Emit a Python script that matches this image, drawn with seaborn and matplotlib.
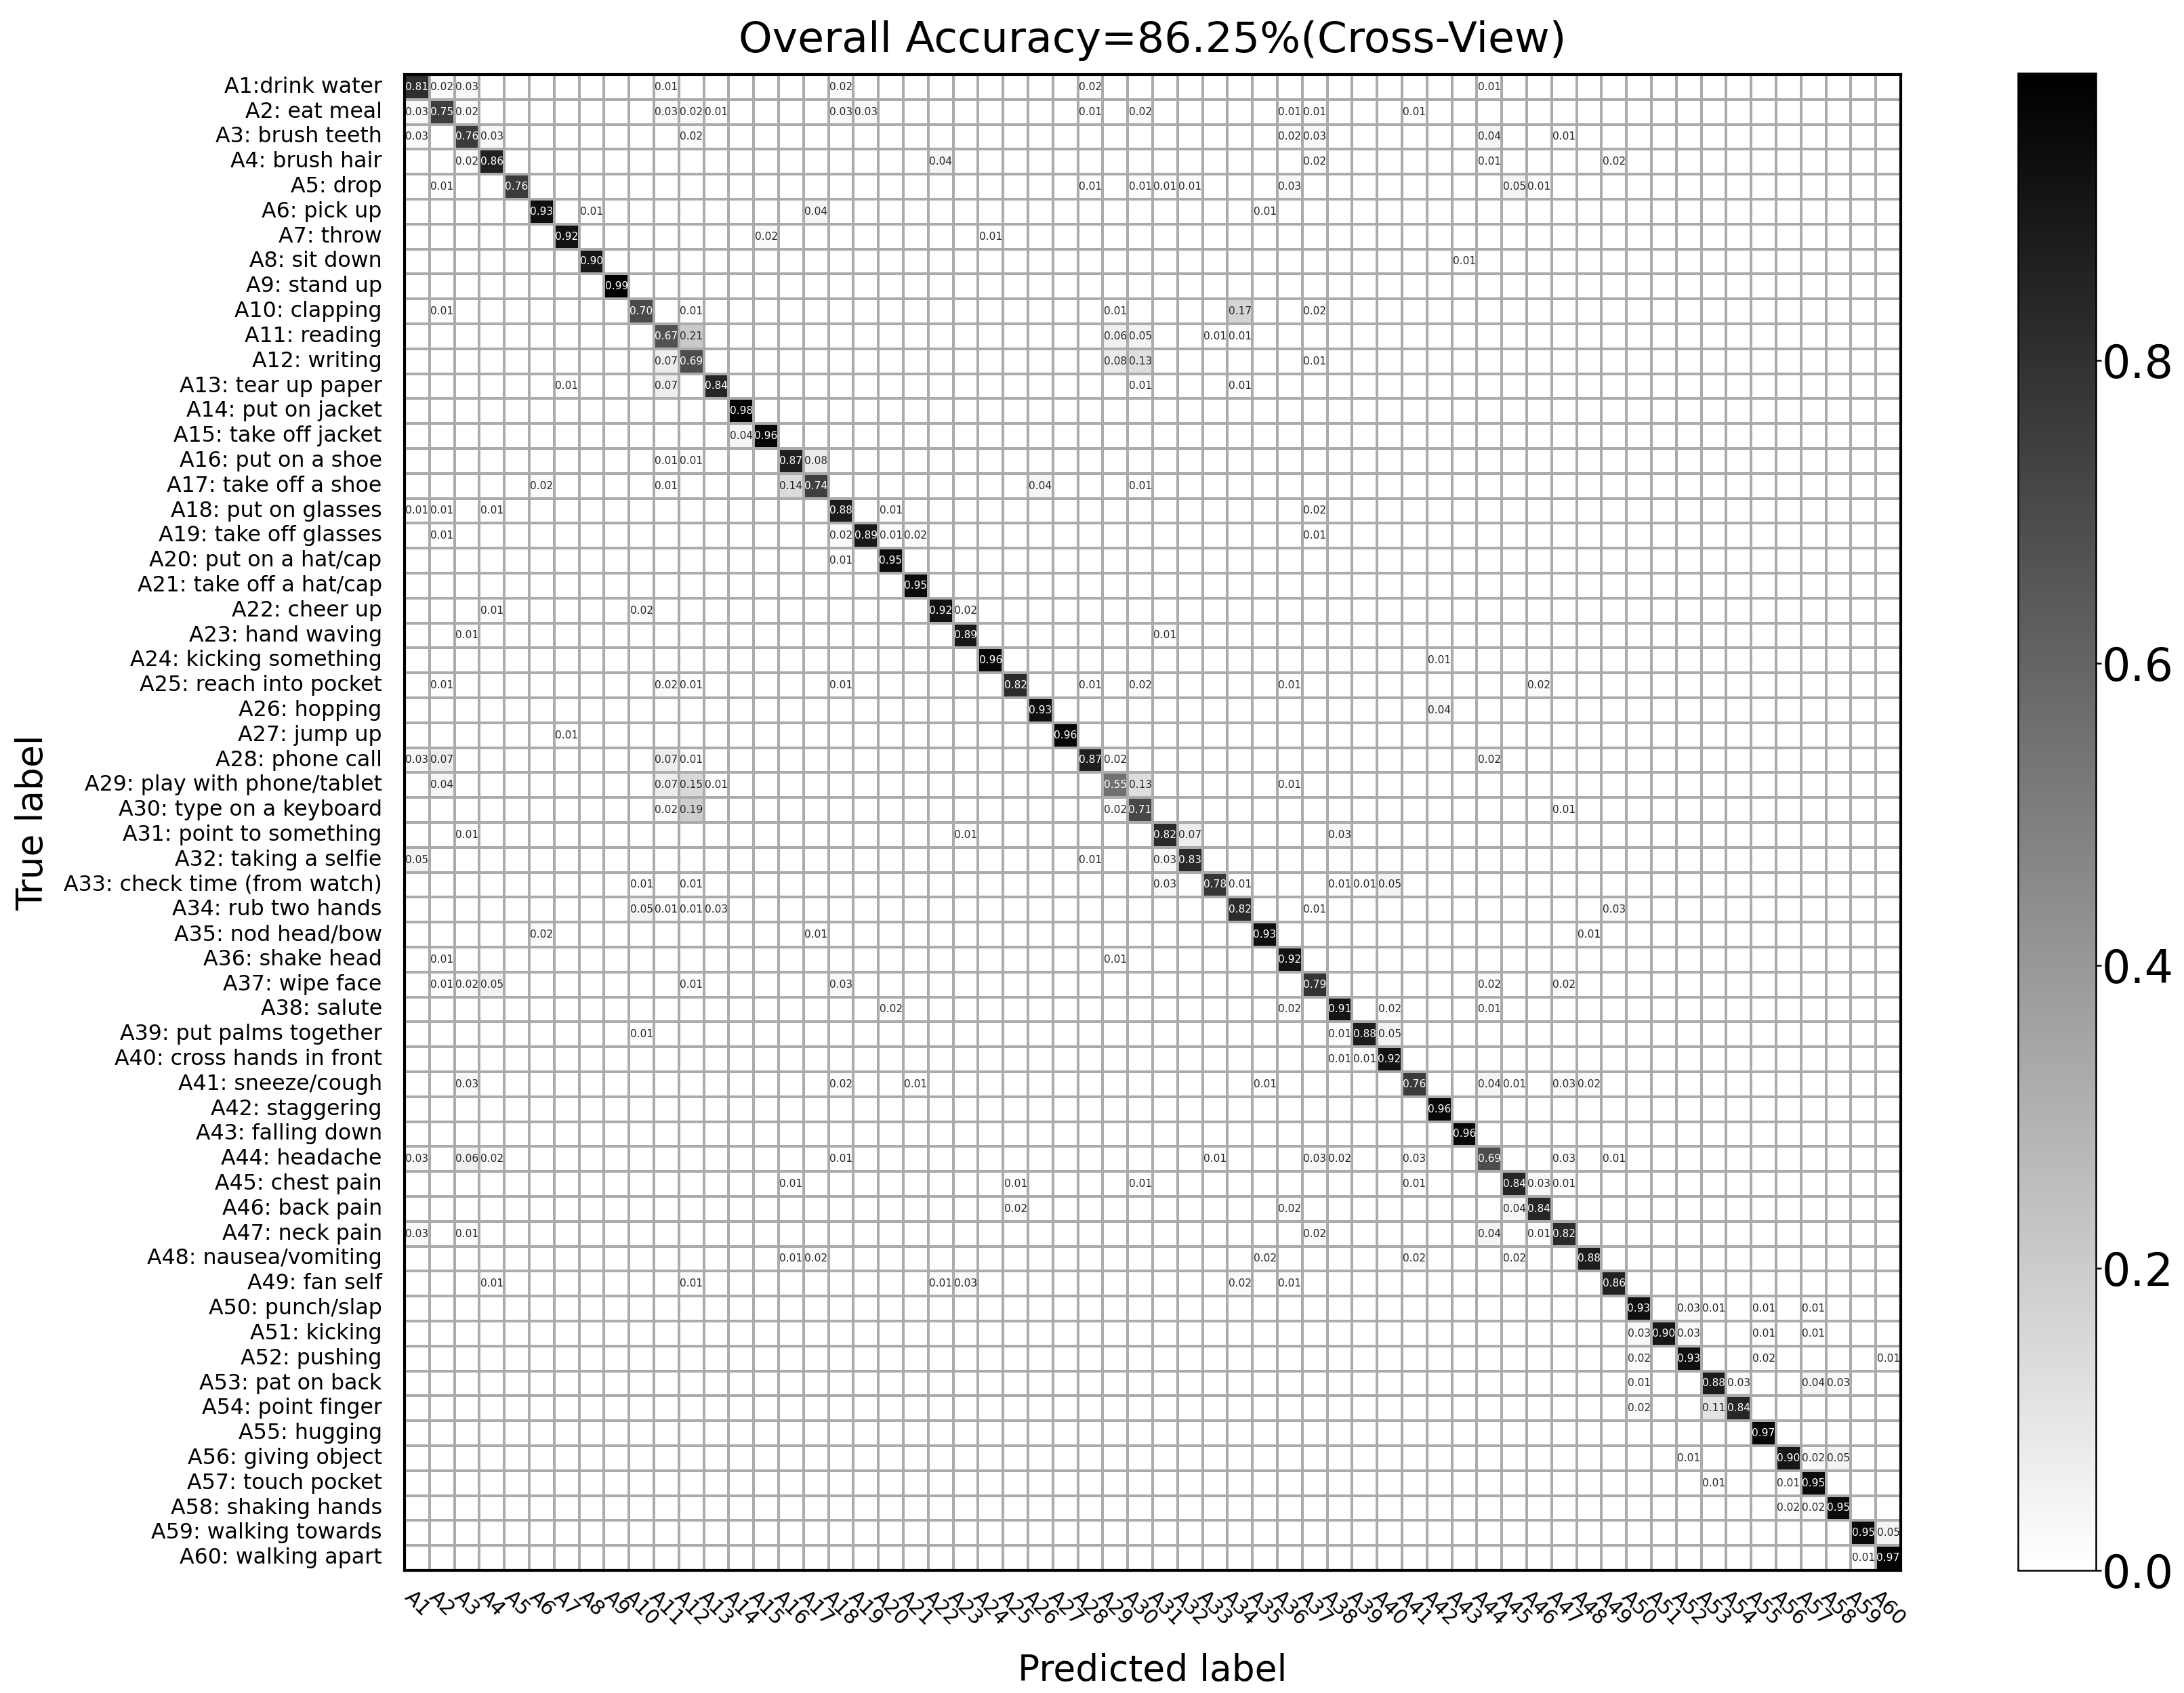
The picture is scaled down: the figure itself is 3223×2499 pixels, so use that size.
import numpy as np
import pandas as pd
import matplotlib
matplotlib.use('Agg')
import matplotlib.pyplot as plt
import seaborn as sns

class_names = ['A1:drink water', 'A2: eat meal', 'A3: brush teeth', 'A4: brush hair', 'A5: drop', 'A6: pick up',
               'A7: throw', 'A8: sit down', 'A9: stand up', 'A10: clapping', 'A11: reading', 'A12: writing',
               'A13: tear up paper', 'A14: put on jacket', 'A15: take off jacket', 'A16: put on a shoe',
               'A17: take off a shoe', 'A18: put on glasses', 'A19: take off glasses', 'A20: put on a hat/cap',
               'A21: take off a hat/cap', 'A22: cheer up', 'A23: hand waving', 'A24: kicking something',
               'A25: reach into pocket', 'A26: hopping', 'A27: jump up', 'A28: phone call',
               'A29: play with phone/tablet', 'A30: type on a keyboard', 'A31: point to something',
               'A32: taking a selfie', 'A33: check time (from watch)', 'A34: rub two hands', 'A35: nod head/bow',
               'A36: shake head', 'A37: wipe face', 'A38: salute', 'A39: put palms together',
               'A40: cross hands in front', 'A41: sneeze/cough', 'A42: staggering', 'A43: falling down',
               'A44: headache', 'A45: chest pain', 'A46: back pain', 'A47: neck pain', 'A48: nausea/vomiting',
               'A49: fan self', 'A50: punch/slap', 'A51: kicking', 'A52: pushing', 'A53: pat on back',
               'A54: point finger', 'A55: hugging', 'A56: giving object', 'A57: touch pocket',
               'A58: shaking hands', 'A59: walking towards', 'A60: walking apart']
pred_names = ['A%d' % i for i in range(1, 61)]

# diagonal, A1 to A60
diagonal = [.81, .75, .76, .86, .76, .93, .92, .90, .99, .70,
            .67, .69, .84, .98, .96, .87, .74, .88, .89, .95,
            .95, .92, .89, .96, .82, .93, .96, .87, .55, .71,
            .82, .83, .78, .82, .93, .92, .79, .91, .88, .92,
            .76, .96, .96, .69, .84, .84, .82, .88, .86, .93,
            .90, .93, .88, .84, .97, .90, .95, .95, .95, .97]

# off diagonal cells, true class / predicted class / value (1-based, as in the labels)
off_true = [1]*6 + [2]*12 + [3]*7 + [4]*5 + [5]*8 + [6]*3 + [7]*2 + [8]*1 + [10]*5 + [11]*5 + [12]*4 + [13]*4 \
    + [15]*1 + [16]*3 + [17]*5 + [18]*5 + [19]*5 + [20]*1 + [22]*3 + [23]*2 + [24]*1 + [25]*8 + [26]*1 + [27]*1 \
    + [28]*6 + [29]*6 + [30]*4 + [31]*4 + [32]*3 + [33]*7 + [34]*6 + [35]*3 + [36]*2 + [37]*7 + [38]*4 + [39]*3 \
    + [40]*2 + [41]*8 + [44]*10 + [45]*6 + [46]*3 + [47]*5 + [48]*5 + [49]*6 + [50]*4 + [51]*4 + [52]*3 + [53]*4 \
    + [54]*2 + [56]*3 + [57]*2 + [58]*2 + [59]*1 + [60]*1
off_pred = [2, 3, 11, 18, 28, 44,
            1, 3, 11, 12, 13, 18, 19, 28, 30, 36, 37, 41,
            1, 4, 12, 36, 37, 44, 47,
            3, 22, 37, 44, 49,
            2, 28, 31, 32, 36, 45, 46, 30,
            8, 17, 35,
            15, 24,
            43,
            2, 12, 29, 34, 37,
            12, 29, 30, 33, 34,
            11, 29, 30, 37,
            7, 11, 30, 34,
            14,
            11, 12, 17,
            6, 11, 16, 26, 30,
            1, 2, 4, 20, 37,
            2, 18, 20, 21, 37,
            18,
            4, 10, 23,
            3, 31,
            42,
            2, 11, 12, 18, 28, 30, 36, 46,
            42,
            7,
            1, 2, 11, 12, 29, 44,
            2, 11, 12, 13, 30, 36,
            11, 12, 29, 47,
            3, 23, 32, 38,
            1, 28, 31,
            10, 12, 31, 34, 38, 39, 40,
            10, 11, 12, 13, 37, 49,
            6, 17, 48,
            2, 29,
            2, 3, 4, 12, 18, 44, 47,
            20, 36, 40, 44,
            10, 38, 40,
            38, 39,
            3, 18, 21, 35, 44, 45, 47, 48,
            1, 3, 4, 18, 33, 37, 38, 41, 47, 49,
            16, 25, 30, 41, 46, 47,
            25, 36, 45,
            1, 3, 37, 44, 46,
            16, 17, 35, 41, 45,
            4, 12, 22, 23, 34, 36,
            52, 53, 55, 57,
            50, 52, 55, 57,
            50, 55, 60,
            50, 54, 57, 58,
            50, 53,
            52, 57, 58,
            53, 56,
            56, 57,
            60,
            59]
off_val = [.02, .03, .01, .02, .02, .01,
           .03, .02, .03, .02, .01, .03, .03, .01, .02, .01, .01, .01,
           .03, .03, .02, .02, .03, .04, .01,
           .02, .04, .02, .01, .02,
           .01, .01, .01, .01, .03, .05, .01, .01,
           .01, .04, .01,
           .02, .01,
           .01,
           .01, .01, .01, .17, .02,
           .21, .06, .05, .01, .01,
           .07, .08, .13, .01,
           .01, .07, .01, .01,
           .04,
           .01, .01, .08,
           .02, .01, .14, .04, .01,
           .01, .01, .01, .01, .02,
           .01, .02, .01, .02, .01,
           .01,
           .01, .02, .02,
           .01, .01,
           .01,
           .01, .02, .01, .01, .01, .02, .01, .02,
           .04,
           .01,
           .03, .07, .07, .01, .02, .02,
           .04, .07, .15, .01, .13, .01,
           .02, .19, .02, .01,
           .01, .01, .07, .03,
           .05, .01, .03,
           .01, .01, .03, .01, .01, .01, .05,
           .05, .01, .01, .03, .01, .03,
           .02, .01, .01,
           .01, .01,
           .01, .02, .05, .01, .03, .02, .02,
           .02, .02, .02, .01,
           .01, .01, .05,
           .01, .01,
           .03, .02, .01, .01, .04, .01, .03, .02,
           .03, .06, .02, .01, .01, .03, .02, .03, .03, .01,
           .01, .01, .01, .01, .03, .01,
           .02, .02, .04,
           .03, .01, .02, .04, .01,
           .01, .02, .02, .02, .02,
           .01, .01, .01, .03, .02, .01,
           .03, .01, .01, .01,
           .03, .03, .01, .01,
           .02, .02, .01,
           .01, .03, .04, .03,
           .02, .11,
           .01, .02, .05,
           .01, .01,
           .02, .02,
           .05,
           .01]

sns.set_style('white')
plt.rcParams['font.family'] = ['DejaVu Sans']
plt.rcParams['text.color'] = 'black'
plt.rcParams['axes.labelcolor'] = 'black'
plt.rcParams['xtick.color'] = 'black'
plt.rcParams['ytick.color'] = 'black'

cm = np.zeros((60, 60))
for i, v in enumerate(diagonal):
    cm[i, i] = v
for t, p, v in zip(off_true, off_pred, off_val):
    cm[t - 1, p - 1] = v
df = pd.DataFrame(cm, index=class_names, columns=pred_names)
labels = df.map(lambda v: '%.2f' % v if v > 0 else '')

W, H = 3223, 2499
fig = plt.figure(figsize=(W / 300, H / 300), dpi=300)
ax = fig.add_axes([597 / W, 1 - 2318 / H, 2208 / W, 2208 / H])
cax = fig.add_axes([2978 / W, 1 - 2318 / H, 115 / W, 2210 / H])

sns.heatmap(df, ax=ax, cbar_ax=cax, cmap='binary', vmin=0, vmax=0.99, annot=labels, fmt='',
            annot_kws={'size': 3.7}, linewidths=0.9, linecolor='#ababab', square=False)

for s in ax.spines.values():
    s.set_visible(True)
    s.set_color('black')
    s.set_linewidth(1.0)

ax.set_xticks(np.arange(60) + 0.5)
ax.set_xticklabels(pred_names, rotation=-45, ha='center', va='top', fontsize=7.2)
ax.set_yticks(np.arange(60) + 0.5)
ax.set_yticklabels(class_names, rotation=0, fontsize=7.6)
ax.tick_params(axis='x', length=0, pad=6)
ax.tick_params(axis='y', length=0, pad=8)

ax.set_title('Overall Accuracy=86.25%(Cross-View)', fontsize=15.2, pad=8)
ax.set_xlabel('Predicted label', fontsize=12.8)
ax.set_ylabel('True label', fontsize=12.8)
ax.xaxis.set_label_coords(0.5, -0.0553)
ax.yaxis.set_label_coords(-0.2369, 0.5)

cbar = ax.collections[0].colorbar
cbar.set_ticks([0, 0.2, 0.4, 0.6, 0.8])
cbar.ax.tick_params(labelsize=16, length=2, width=0.6, right=True, pad=0)
cbar.outline.set_visible(True)
cbar.outline.set_edgecolor('black')
cbar.outline.set_linewidth(0.6)

fig.savefig('out.png', dpi=300)
plt.close(fig)
